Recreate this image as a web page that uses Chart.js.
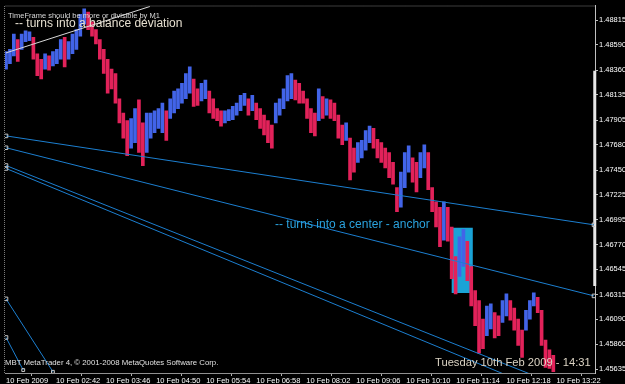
<!DOCTYPE html>
<html><head><meta charset="utf-8">
<script src="https://cdn.jsdelivr.net/npm/chart.js@4.4.0/dist/chart.umd.min.js"></script>
<style>
html,body{margin:0;padding:0;background:#000;overflow:hidden;}
#wrap{position:relative;width:625px;height:384px;background:#000;}
canvas{position:absolute;left:0;top:0;}
.t{position:absolute;white-space:nowrap;font-family:'Liberation Sans',Arial,sans-serif;line-height:1;}
</style></head><body>
<div id="wrap"><canvas id="c" width="625" height="384"></canvas>
<div class="t" style="left:8px;top:11.5px;font-size:7.5px;color:#d8d8d8">TimeFrame should be more or divisible by M1</div>
<div class="t" style="left:15px;top:17.3px;font-size:12px;color:#e6dfd0">-- turns into a balance deviation</div>
<div class="t" style="left:275px;top:217.8px;font-size:12px;color:#2aa3df">-- turns into a center - anchor</div>
<div class="t" style="left:5px;top:359.3px;font-size:7.8px;color:#e0e0e0">MBT MetaTrader 4, © 2001-2008 MetaQuotes Software Corp.</div>
<div class="t" style="left:435px;top:356.5px;font-size:11.2px;color:#dcd4c4">Tuesday 10th Feb 2009 - 14:31</div>
</div>
<script>
// time axis: minutes since 10 Feb 2009 01:38 (M1 chart)
const xTickMinutes = [0,64,128,192,256,320,384,448,512,576,640,704];
const xTickLabels = ['10 Feb 2009','10 Feb 02:42','10 Feb 03:46','10 Feb 04:50','10 Feb 05:54','10 Feb 06:58','10 Feb 08:02','10 Feb 09:06','10 Feb 10:10','10 Feb 11:14','10 Feb 12:18','10 Feb 13:22'];
const yTickValues = [1.48815,1.48590,1.48360,1.48135,1.47905,1.47680,1.47450,1.47225,1.46995,1.46770,1.46545,1.46315,1.46090,1.45860,1.45635];
const yTickLabels = ['1.48815','1.48590','1.48360','1.48135','1.47905','1.47680','1.47450','1.47225','1.46995','1.46770','1.46545','1.46315','1.46090','1.45860','1.45635'];
const barStepMinutes = 5;
const highs = [1.4853,1.4855,1.4869,1.4864,1.4869,1.4872,1.4871,1.4866,1.4851,1.4846,
1.4851,1.4849,1.4853,1.4855,1.4864,1.4866,1.4862,1.4869,1.4873,1.4887,
1.4892,1.4889,1.4880,1.4873,1.4864,1.4855,1.4846,1.4837,1.4833,1.4810,
1.4797,1.4790,1.4792,1.4801,1.4809,1.4788,1.4797,1.4797,1.4799,1.4801,
1.4806,1.4799,1.4810,1.4817,1.4819,1.4824,1.4833,1.4839,1.4828,1.4819,
1.4824,1.4827,1.4817,1.4810,1.4801,1.4799,1.4799,1.4800,1.4803,1.4806,
1.4813,1.4815,1.4810,1.4813,1.4806,1.4801,1.4795,1.4790,1.4786,1.4806,
1.4810,1.4819,1.4831,1.4833,1.4827,1.4824,1.4817,1.4810,1.4801,1.4797,
1.4819,1.4812,1.4810,1.4809,1.4806,1.4795,1.4786,1.4788,1.4774,1.4765,
1.4770,1.4772,1.4781,1.4785,1.4783,1.4773,1.4770,1.4765,1.4761,1.4752,
1.4729,1.4743,1.4761,1.4767,1.4756,1.4752,1.4761,1.4768,1.4761,1.4729,
1.4716,1.4711,1.4716,1.4711,1.4693,1.4666,1.4684,1.4691,1.4680,1.4657,
1.4635,1.4626,1.4609,1.4621,1.4623,1.4615,1.4612,1.4626,1.4632,1.4626,
1.4619,1.4609,1.4599,1.4617,1.4626,1.4633,1.4629,1.4617,1.4590,1.4581,
1.4576];
const lows = [1.4837,1.4842,1.4849,1.4844,1.4855,1.4862,1.4863,1.4846,1.4831,1.4828,
1.4837,1.4836,1.4840,1.4842,1.4846,1.4839,1.4846,1.4851,1.4855,1.4867,
1.4878,1.4873,1.4867,1.4860,1.4846,1.4833,1.4815,1.4819,1.4806,1.4788,
1.4774,1.4758,1.4765,1.4770,1.4761,1.4749,1.4761,1.4774,1.4779,1.4783,
1.4779,1.4772,1.4792,1.4797,1.4801,1.4806,1.4810,1.4815,1.4803,1.4804,
1.4808,1.4810,1.4797,1.4792,1.4790,1.4785,1.4788,1.4790,1.4791,1.4795,
1.4799,1.4804,1.4795,1.4799,1.4791,1.4783,1.4777,1.4770,1.4765,1.4788,
1.4795,1.4801,1.4808,1.4810,1.4809,1.4806,1.4806,1.4792,1.4779,1.4776,
1.4790,1.4792,1.4795,1.4792,1.4790,1.4774,1.4768,1.4772,1.4736,1.4743,
1.4752,1.4756,1.4763,1.4770,1.4765,1.4756,1.4752,1.4747,1.4738,1.4732,
1.4707,1.4711,1.4729,1.4743,1.4734,1.4725,1.4738,1.4747,1.4727,1.4707,
1.4693,1.4675,1.4681,1.4680,1.4646,1.4632,1.4648,1.4657,1.4644,1.4621,
1.4603,1.4578,1.4582,1.4594,1.4600,1.4592,1.4594,1.4606,1.4612,1.4608,
1.4599,1.4585,1.4574,1.4599,1.4609,1.4621,1.4615,1.4585,1.4565,1.4564,
1.4561];
// drawn objects (time in minutes, price)
const channelMinutes = [0, 752];
const channel1 = [1.47761, 1.46950];
const channel2 = [1.47653, 1.46302];
const channel3 = [1.47491, 1.45358];
const channel4 = [1.47464, 1.45250];
const steep1Minutes = [0, 60];
const steep1 = [1.46275, 1.45610];
const steep2Minutes = [0, 22];
const steep2 = [1.45923, 1.45626];
const balanceMinutes = [0, 184];
const balanceLine = [1.48518, 1.48941];
const anchorBoxMinutes = [570, 597];
const anchorBoxPrices = [1.46923, 1.46329];
const visibleRange = [1.48355, 1.46392];

const RED = '#e2225a', BLUE = '#4264e8', LINE = '#1c7fd0';
const mids = highs.map((h,i)=>(h+lows[i])/2);
const barColors = mids.map((m,i)=> (i===0 || m>=mids[i-1]) ? BLUE : RED);
const pts = (xs, ys) => xs.map((x,i)=>({x, y: ys[i]}));

Chart.defaults.font.family = "'Liberation Sans', Arial, sans-serif";
const bgPlugin = {
  id:'bg',
  beforeDraw(chart){
    const c = chart.ctx; c.save(); c.fillStyle='#000'; c.fillRect(0,0,chart.width,chart.height); c.restore();
  },
  afterDraw(chart){
    const c = chart.ctx, a = chart.chartArea; c.save();
    c.strokeStyle='#7a7a7a'; c.lineWidth=1; c.setLineDash([1,1]);
    c.beginPath(); c.moveTo(a.left-0.5, a.bottom); c.lineTo(a.left-0.5, a.top+0.5); c.lineTo(a.right, a.top+0.5); c.stroke();
    c.restore();
  }
};
const lineDs = (data, color, radii, order, extra) => Object.assign({
  type:'line', data, borderColor:color, borderWidth:1, pointRadius:radii, pointStyle:'rect',
  pointBorderColor:'#c8c8c8', pointBackgroundColor:'rgba(0,0,0,0)', pointBorderWidth:1, fill:false, order, tension:0
}, extra||{});

new Chart(document.getElementById('c'), {
  type:'bar',
  data:{ datasets:[
    lineDs(pts(channelMinutes, channel1), LINE, [2.5,2.5], 1),
    lineDs(pts(channelMinutes, channel2), LINE, [2.5,2.5], 1),
    lineDs(pts(channelMinutes, channel3), LINE, [2.5,0], 1),
    lineDs(pts(channelMinutes, channel4), LINE, [2.5,0], 1),
    lineDs(pts(steep1Minutes, steep1), LINE, [2.5,2], 1),
    lineDs(pts(steep2Minutes, steep2), LINE, [2.5,2], 1),
    lineDs(pts(balanceMinutes, balanceLine), '#d8d8d8', 0, 1),
    lineDs(pts([753,753], visibleRange), '#e8e8e8', 0, 1, {borderWidth:3, clip:false}),
    { type:'bar', data: highs.map((h,i)=>({x:i*barStepMinutes, y:[lows[i], h]})),
      backgroundColor: barColors, borderWidth:0, barThickness:3, order:3 },
    lineDs(pts([anchorBoxMinutes[0],anchorBoxMinutes[1],anchorBoxMinutes[1],anchorBoxMinutes[0],anchorBoxMinutes[0]],
               [anchorBoxPrices[0],anchorBoxPrices[0],anchorBoxPrices[1],anchorBoxPrices[1],anchorBoxPrices[0]]),
           'rgba(0,0,0,0)', 0, 5, {fill:'shape', backgroundColor:'#1aa3d6', borderWidth:0})
  ]},
  options:{
    responsive:false, animation:false,
    layout:{padding:{left:2, top:1, right:0, bottom:0}},
    plugins:{legend:{display:false}, tooltip:{enabled:false}},
    scales:{
      x:{type:'linear', min:-1.3, max:753.3, offset:false,
        afterBuildTicks: s=>{ s.ticks = xTickMinutes.map(v=>({value:v})); },
        afterFit: s=>{ s.height = 11; },
        ticks:{color:'#ffffff', align:'start', maxRotation:0, autoSkip:false, padding:0, font:{size:7.5},
          callback:(v,i)=>xTickLabels[i]},
        grid:{drawOnChartArea:false, tickLength:3, color:'#b0b0b0'},
        border:{color:'#909090'}
      },
      y:{type:'linear', position:'right', min:1.45599, max:1.48950,
        afterBuildTicks: s=>{ s.ticks = yTickValues.map(v=>({value:v})); },
        afterFit: s=>{ s.width = 30; },
        ticks:{color:'#ffffff', padding:1, font:{size:7.5}, callback:(v,i)=>yTickLabels[i]},
        grid:{drawOnChartArea:false, tickLength:3, color:'#c0c0c0'},
        border:{color:'#c0c0c0'}
      }
    }
  },
  plugins:[bgPlugin]
});
</script>
</body></html>
